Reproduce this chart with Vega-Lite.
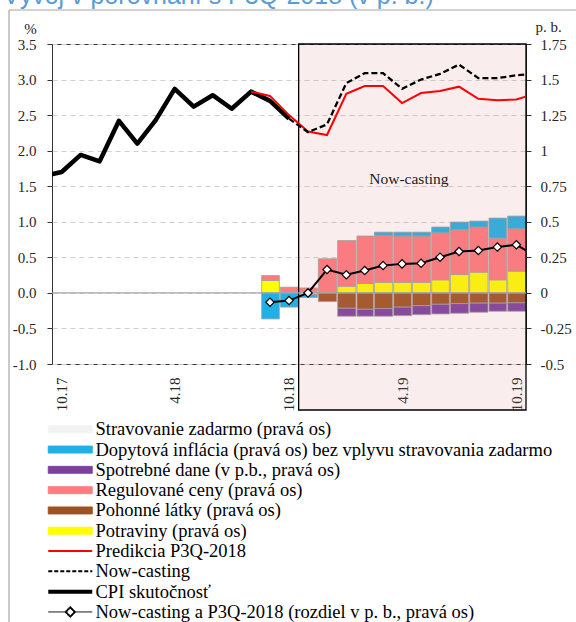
{
  "$schema": "https://vega.github.io/schema/vega-lite/v6.json",
  "width": 474,
  "height": 320,
  "autosize": {"type": "none"},
  "padding": {"left": 52, "top": 44, "right": 50, "bottom": 258},
  "background": "white",
  "config": {
    "view": {"stroke": "#333333", "strokeWidth": 1},
    "font": "Liberation Serif"
  },
  "title": {
    "text": "Vývoj v porovnaní s P3Q-2018 (v p. b.)",
    "anchor": "start",
    "frame": "group",
    "font": "Liberation Sans",
    "fontSize": 25,
    "fontWeight": "normal",
    "color": "#5b9bd5",
    "offset": 0,
    "baseline": "alphabetic",
    "dx": -49,
    "dy": 20
  },
  "datasets": {
    "cpi": [
      {"m": "2017-09", "v": 1.64}, {"m": "2017-10", "v": 1.70}, {"m": "2017-11", "v": 1.94},
      {"m": "2017-12", "v": 1.85}, {"m": "2018-01", "v": 2.42}, {"m": "2018-02", "v": 2.10},
      {"m": "2018-03", "v": 2.43}, {"m": "2018-04", "v": 2.87}, {"m": "2018-05", "v": 2.62},
      {"m": "2018-06", "v": 2.78}, {"m": "2018-07", "v": 2.59}, {"m": "2018-08", "v": 2.83},
      {"m": "2018-09", "v": 2.70}, {"m": "2018-10", "v": 2.45}
    ],
    "pred": [
      {"m": "2018-08", "v": 2.83}, {"m": "2018-09", "v": 2.77}, {"m": "2018-10", "v": 2.50},
      {"m": "2018-11", "v": 2.27}, {"m": "2018-12", "v": 2.22}, {"m": "2019-01", "v": 2.80},
      {"m": "2019-02", "v": 2.91}, {"m": "2019-03", "v": 2.91}, {"m": "2019-04", "v": 2.67},
      {"m": "2019-05", "v": 2.81}, {"m": "2019-06", "v": 2.84}, {"m": "2019-07", "v": 2.90},
      {"m": "2019-08", "v": 2.73}, {"m": "2019-09", "v": 2.71}, {"m": "2019-10", "v": 2.72},
      {"m": "2019-11", "v": 2.80}
    ],
    "now": [
      {"m": "2018-10", "v": 2.45}, {"m": "2018-11", "v": 2.26}, {"m": "2018-12", "v": 2.37},
      {"m": "2019-01", "v": 2.95}, {"m": "2019-02", "v": 3.09}, {"m": "2019-03", "v": 3.09},
      {"m": "2019-04", "v": 2.87}, {"m": "2019-05", "v": 3.00}, {"m": "2019-06", "v": 3.08},
      {"m": "2019-07", "v": 3.21}, {"m": "2019-08", "v": 3.02}, {"m": "2019-09", "v": 3.02},
      {"m": "2019-10", "v": 3.06}, {"m": "2019-11", "v": 3.08}
    ],
    "diff": [
      {"m": "2018-09", "v": -0.066}, {"m": "2018-10", "v": -0.054}, {"m": "2018-11", "v": 0.0},
      {"m": "2018-12", "v": 0.164}, {"m": "2019-01", "v": 0.127}, {"m": "2019-02", "v": 0.157},
      {"m": "2019-03", "v": 0.192}, {"m": "2019-04", "v": 0.204}, {"m": "2019-05", "v": 0.208},
      {"m": "2019-06", "v": 0.251}, {"m": "2019-07", "v": 0.291}, {"m": "2019-08", "v": 0.298},
      {"m": "2019-09", "v": 0.322}, {"m": "2019-10", "v": 0.338}, {"m": "2019-11", "v": 0.26}
    ],
    "bars": [
      {"m": "2018-09", "c": "Potraviny (pravá os)", "k": 1, "v": 0.087},
      {"m": "2018-09", "c": "Regulované ceny (pravá os)", "k": 3, "v": 0.035},
      {"m": "2018-09", "c": "Dopytová inflácia (pravá os) bez vplyvu stravovania zadarmo", "k": 5, "v": -0.183},
      {"m": "2018-10", "c": "Regulované ceny (pravá os)", "k": 3, "v": 0.04},
      {"m": "2018-10", "c": "Dopytová inflácia (pravá os) bez vplyvu stravovania zadarmo", "k": 5, "v": -0.10},
      {"m": "2018-11", "c": "Regulované ceny (pravá os)", "k": 3, "v": 0.035},
      {"m": "2018-11", "c": "Potraviny (pravá os)", "k": 1, "v": -0.012},
      {"m": "2018-11", "c": "Dopytová inflácia (pravá os) bez vplyvu stravovania zadarmo", "k": 5, "v": -0.02},
      {"m": "2018-12", "c": "Regulované ceny (pravá os)", "k": 3, "v": 0.24},
      {"m": "2018-12", "c": "Pohonné látky (pravá os)", "k": 2, "v": -0.061},
      {"m": "2019-01", "c": "Potraviny (pravá os)", "k": 1, "v": 0.047},
      {"m": "2019-01", "c": "Regulované ceny (pravá os)", "k": 3, "v": 0.321},
      {"m": "2019-01", "c": "Pohonné látky (pravá os)", "k": 2, "v": -0.108},
      {"m": "2019-01", "c": "Spotrebné dane (v p.b., pravá os)", "k": 4, "v": -0.056},
      {"m": "2019-02", "c": "Potraviny (pravá os)", "k": 1, "v": 0.066},
      {"m": "2019-02", "c": "Regulované ceny (pravá os)", "k": 3, "v": 0.334},
      {"m": "2019-02", "c": "Pohonné látky (pravá os)", "k": 2, "v": -0.115},
      {"m": "2019-02", "c": "Spotrebné dane (v p.b., pravá os)", "k": 4, "v": -0.049},
      {"m": "2019-03", "c": "Potraviny (pravá os)", "k": 1, "v": 0.075},
      {"m": "2019-03", "c": "Regulované ceny (pravá os)", "k": 3, "v": 0.329},
      {"m": "2019-03", "c": "Dopytová inflácia (pravá os) bez vplyvu stravovania zadarmo", "k": 5, "v": 0.023},
      {"m": "2019-03", "c": "Pohonné látky (pravá os)", "k": 2, "v": -0.11},
      {"m": "2019-03", "c": "Spotrebné dane (v p.b., pravá os)", "k": 4, "v": -0.054},
      {"m": "2019-04", "c": "Potraviny (pravá os)", "k": 1, "v": 0.075},
      {"m": "2019-04", "c": "Regulované ceny (pravá os)", "k": 3, "v": 0.325},
      {"m": "2019-04", "c": "Dopytová inflácia (pravá os) bez vplyvu stravovania zadarmo", "k": 5, "v": 0.027},
      {"m": "2019-04", "c": "Pohonné látky (pravá os)", "k": 2, "v": -0.10},
      {"m": "2019-04", "c": "Spotrebné dane (v p.b., pravá os)", "k": 4, "v": -0.06},
      {"m": "2019-05", "c": "Potraviny (pravá os)", "k": 1, "v": 0.075},
      {"m": "2019-05", "c": "Regulované ceny (pravá os)", "k": 3, "v": 0.325},
      {"m": "2019-05", "c": "Dopytová inflácia (pravá os) bez vplyvu stravovania zadarmo", "k": 5, "v": 0.027},
      {"m": "2019-05", "c": "Pohonné látky (pravá os)", "k": 2, "v": -0.09},
      {"m": "2019-05", "c": "Spotrebné dane (v p.b., pravá os)", "k": 4, "v": -0.063},
      {"m": "2019-06", "c": "Potraviny (pravá os)", "k": 1, "v": 0.092},
      {"m": "2019-06", "c": "Regulované ceny (pravá os)", "k": 3, "v": 0.331},
      {"m": "2019-06", "c": "Dopytová inflácia (pravá os) bez vplyvu stravovania zadarmo", "k": 5, "v": 0.04},
      {"m": "2019-06", "c": "Pohonné látky (pravá os)", "k": 2, "v": -0.08},
      {"m": "2019-06", "c": "Spotrebné dane (v p.b., pravá os)", "k": 4, "v": -0.068},
      {"m": "2019-07", "c": "Potraviny (pravá os)", "k": 1, "v": 0.129},
      {"m": "2019-07", "c": "Regulované ceny (pravá os)", "k": 3, "v": 0.315},
      {"m": "2019-07", "c": "Dopytová inflácia (pravá os) bez vplyvu stravovania zadarmo", "k": 5, "v": 0.054},
      {"m": "2019-07", "c": "Pohonné látky (pravá os)", "k": 2, "v": -0.075},
      {"m": "2019-07", "c": "Spotrebné dane (v p.b., pravá os)", "k": 4, "v": -0.068},
      {"m": "2019-08", "c": "Potraviny (pravá os)", "k": 1, "v": 0.146},
      {"m": "2019-08", "c": "Regulované ceny (pravá os)", "k": 3, "v": 0.317},
      {"m": "2019-08", "c": "Dopytová inflácia (pravá os) bez vplyvu stravovania zadarmo", "k": 5, "v": 0.042},
      {"m": "2019-08", "c": "Pohonné látky (pravá os)", "k": 2, "v": -0.072},
      {"m": "2019-08", "c": "Spotrebné dane (v p.b., pravá os)", "k": 4, "v": -0.064},
      {"m": "2019-09", "c": "Potraviny (pravá os)", "k": 1, "v": 0.092},
      {"m": "2019-09", "c": "Regulované ceny (pravá os)", "k": 3, "v": 0.293},
      {"m": "2019-09", "c": "Dopytová inflácia (pravá os) bez vplyvu stravovania zadarmo", "k": 5, "v": 0.141},
      {"m": "2019-09", "c": "Pohonné látky (pravá os)", "k": 2, "v": -0.072},
      {"m": "2019-09", "c": "Spotrebné dane (v p.b., pravá os)", "k": 4, "v": -0.057},
      {"m": "2019-10", "c": "Potraviny (pravá os)", "k": 1, "v": 0.153},
      {"m": "2019-10", "c": "Regulované ceny (pravá os)", "k": 3, "v": 0.298},
      {"m": "2019-10", "c": "Dopytová inflácia (pravá os) bez vplyvu stravovania zadarmo", "k": 5, "v": 0.089},
      {"m": "2019-10", "c": "Pohonné látky (pravá os)", "k": 2, "v": -0.07},
      {"m": "2019-10", "c": "Spotrebné dane (v p.b., pravá os)", "k": 4, "v": -0.059}
    ]
  },
  "layer": [
    {
      "data": {"name": "cpi"},
      "mark": {"type": "line", "strokeWidth": 4.5, "clip": true, "strokeJoin": "round"},
      "encoding": {
        "x": {"field": "m", "timeUnit": "utcyearmonth", "type": "temporal", "bandPosition": 0.5,
              "scale": {"type": "utc", "nice": false, "domain": [{"year": 2017, "month": 10, "date": 1, "utc": true}, {"year": 2019, "month": 11, "date": 1, "utc": true}]},
              "axis": {
                "values": [
                  {"year": 2017, "month": 10, "date": 16, "utc": true},
                  {"year": 2018, "month": 4, "date": 16, "utc": true},
                  {"year": 2018, "month": 10, "date": 16, "utc": true},
                  {"year": 2019, "month": 4, "date": 16, "utc": true},
                  {"year": 2019, "month": 10, "date": 16, "utc": true}
                ],
                "labelExpr": "utcFormat(datum.value, '%-m.%y')",
                "labelAngle": -90,
                "labelAlign": "right",
                "labelBaseline": "middle",
                "labelFont": "Liberation Serif",
                "labelFontSize": 15,
                "labelColor": "#262626",
                "labelPadding": 13,
                "labelOverlap": false,
                "ticks": false,
                "grid": false,
                "domain": false,
                "title": null
              }},
        "y": {"field": "v", "type": "quantitative", "scale": {"domain": [-1, 3.5], "nice": false, "zero": false},
              "axis": {
                "orient": "left",
                "values": [-1, -0.5, 0, 0.5, 1, 1.5, 2, 2.5, 3, 3.5],
                "labelExpr": "replace(format(datum.value, '.1f'), '\u2212', '-')",
                "grid": true,
                "gridDash": [5, 4],
                "gridColor": "#cfcfcf",
                "gridWidth": 1,
                "domain": false,
                "ticks": true,
                "tickSize": 5,
                "tickColor": "#333333",
                "labelFont": "Liberation Serif",
                "labelFontSize": 15,
                "labelColor": "#262626",
                "labelPadding": 11,
                "title": "%",
                "titleAngle": 0,
                "titleX": -22,
                "titleY": -16,
                "titleAlign": "center",
                "titleBaseline": "middle",
                "titleFont": "Liberation Serif",
                "titleFontSize": 15,
                "titleFontWeight": "normal",
                "titleColor": "#262626"
              }},
        "color": {"datum": "CPI skutočnosť", "type": "nominal"}
      }
    },
    {
      "data": {"name": "bars"},
      "mark": {"type": "bar", "stroke": "#a0a0a0", "strokeWidth": 0.8},
      "encoding": {
        "x": {"field": "m", "timeUnit": "utcyearmonth", "type": "temporal"},
        "y": {"field": "v", "type": "quantitative", "stack": "zero",
              "scale": {"domain": [-0.5, 1.75], "nice": false, "zero": false},
              "axis": {
                "orient": "right",
                "values": [-0.5, -0.25, 0, 0.25, 0.5, 0.75, 1, 1.25, 1.5, 1.75],
                "labelExpr": "replace(format(datum.value, '~g'), '\u2212', '-')",
                "grid": false,
                "domain": false,
                "ticks": true,
                "tickSize": 5,
                "tickColor": "#333333",
                "labelFont": "Liberation Serif",
                "labelFontSize": 15,
                "labelColor": "#262626",
                "labelPadding": 9,
                "title": "p. b.",
                "titleAngle": 0,
                "titleX": 22,
                "titleY": -18,
                "titleAlign": "center",
                "titleBaseline": "middle",
                "titleFont": "Liberation Serif",
                "titleFontSize": 15,
                "titleFontWeight": "normal",
                "titleColor": "#262626"
              }},
        "order": {"field": "k", "type": "quantitative"},
        "color": {
          "field": "c",
          "type": "nominal",
          "scale": {
            "domain": [
              "Stravovanie zadarmo (pravá os)",
              "Dopytová inflácia (pravá os) bez vplyvu stravovania zadarmo",
              "Spotrebné dane (v p.b., pravá os)",
              "Regulované ceny (pravá os)",
              "Pohonné látky (pravá os)",
              "Potraviny (pravá os)",
              "Predikcia P3Q-2018",
              "Now-casting",
              "CPI skutočnosť",
              "Now-casting a P3Q-2018 (rozdiel v p. b., pravá os)"
            ],
            "range": ["#f2f2f2", "#1fb1e6", "#7b3fa0", "#ff7b7f", "#9d5223", "#ffff00", "#ff0000", "#000000", "#000000", "#000000"]
          },
          "legend": {
            "orient": "none",
            "legendX": 9,
            "legendY": 376,
            "title": null,
            "direction": "vertical",
            "padding": 0,
            "labelFont": "Liberation Serif",
            "labelFontSize": 18.5,
            "labelColor": "#000000",
            "labelLimit": 700,
            "labelOffset": 16,
            "labelBaseline": "middle",
            "symbolSize": 100,
            "symbolType": "M-4.4,-0.7H4.4V0.7H-4.4Z",
            "symbolStrokeWidth": 1,
            "rowPadding": 1.3,
            "encoding": {
              "symbols": {
                "shape": {"value": {"expr": "datum.value === 'Now-casting a P3Q-2018 (rozdiel v p. b., pravá os)' ? 'M-4.4,0H-1.1M1.1,0H4.4M0,-1.1L1.1,0L0,1.1L-1.1,0ZM0,-0.75L-0.75,0L0,0.75L0.75,0Z' : (indexof(domain('color'), datum.value) < 6 ? 'M-4.4,-0.7H4.4V0.7H-4.4Z' : 'M-4.4,0H4.4')"}},
                "strokeWidth": {"value": {"expr": "datum.value === 'CPI skutočnosť' ? 4 : (indexof(domain('color'), datum.value) < 6 ? 1 : (datum.value === 'Now-casting a P3Q-2018 (rozdiel v p. b., pravá os)' ? 1 : 2))"}},
                "strokeDash": {"value": {"expr": "datum.value === 'Now-casting' ? [4, 2] : [1, 0]"}},
                "opacity": {"value": 1}
              }
            }
          }
        }
      }
    },
    {
      "data": {"values": [{}]},
      "mark": {"type": "rect", "fill": "#d78e87", "fillOpacity": 0.15, "stroke": "#000000", "strokeWidth": 1.3, "clip": false},
      "encoding": {
        "x": {"datum": {"year": 2018, "month": 11, "date": 1, "utc": true}, "type": "temporal"},
        "x2": {"datum": {"year": 2019, "month": 11, "date": 1, "utc": true}},
        "y": {"datum": 3.5, "type": "quantitative", "axis": null, "scale": {"domain": [-1, 3.5], "nice": false, "zero": false}},
        "y2": {"datum": -1.647}
      }
    },
    {
      "data": {"values": [{}]},
      "mark": {"type": "rule", "color": "#a6a6a6", "strokeWidth": 1.2, "clip": false},
      "encoding": {
        "x": {"datum": {"year": 2017, "month": 7, "date": 24, "utc": true}, "type": "temporal"},
        "x2": {"datum": {"year": 2020, "month": 1, "date": 25, "utc": true}},
        "y": {"datum": 3.978, "type": "quantitative", "axis": null, "scale": {"domain": [-1, 3.5], "nice": false, "zero": false}}
      }
    },
    {
      "data": {"values": [{}]},
      "mark": {"type": "rule", "color": "#a6a6a6", "strokeWidth": 1.2, "clip": false},
      "encoding": {
        "x": {"datum": {"year": 2017, "month": 7, "date": 24, "utc": true}, "type": "temporal"},
        "y": {"datum": 3.978, "type": "quantitative", "axis": null, "scale": {"domain": [-1, 3.5], "nice": false, "zero": false}},
        "y2": {"datum": -4.8}
      }
    },
    {
      "data": {"values": [{}]},
      "mark": {"type": "rule", "color": "#a6a6a6", "strokeWidth": 1.2},
      "encoding": {
        "y": {"datum": 0, "type": "quantitative", "axis": null, "scale": {"domain": [-1, 3.5], "nice": false, "zero": false}}
      }
    },
    {
      "data": {"name": "pred"},
      "mark": {"type": "line", "strokeWidth": 2, "clip": true},
      "encoding": {
        "x": {"field": "m", "timeUnit": "utcyearmonth", "type": "temporal", "bandPosition": 0.5},
        "y": {"field": "v", "type": "quantitative", "scale": {"domain": [-1, 3.5], "nice": false, "zero": false}, "axis": null},
        "color": {"datum": "Predikcia P3Q-2018", "type": "nominal"}
      }
    },
    {
      "data": {"name": "now"},
      "mark": {"type": "line", "strokeWidth": 2.3, "strokeDash": [6, 3], "clip": true},
      "encoding": {
        "x": {"field": "m", "timeUnit": "utcyearmonth", "type": "temporal", "bandPosition": 0.5},
        "y": {"field": "v", "type": "quantitative", "scale": {"domain": [-1, 3.5], "nice": false, "zero": false}, "axis": null},
        "color": {"datum": "Now-casting", "type": "nominal"}
      }
    },
    {
      "data": {"values": [{}]},
      "mark": {"type": "text", "text": "Now-casting", "font": "Liberation Serif", "fontSize": 15.5, "color": "#222222", "align": "center", "baseline": "middle"},
      "encoding": {
        "x": {"datum": {"year": 2019, "month": 4, "date": 27, "utc": true}, "type": "temporal"},
        "y": {"datum": 1.6, "type": "quantitative", "axis": null, "scale": {"domain": [-1, 3.5], "nice": false, "zero": false}}
      }
    },
    {
      "data": {"name": "diff"},
      "mark": {"type": "line", "strokeWidth": 2, "clip": true},
      "encoding": {
        "x": {"field": "m", "timeUnit": "utcyearmonth", "type": "temporal", "bandPosition": 0.5},
        "y": {"field": "v", "type": "quantitative", "scale": {"domain": [-0.5, 1.75], "nice": false, "zero": false}, "axis": null},
        "color": {"datum": "Now-casting a P3Q-2018 (rozdiel v p. b., pravá os)", "type": "nominal"}
      }
    },
    {
      "data": {"name": "diff"},
      "mark": {"type": "point", "shape": "diamond", "filled": true, "fill": "#ffffff", "stroke": "#000000", "strokeWidth": 1.2, "size": 70, "opacity": 1, "clip": true},
      "encoding": {
        "x": {"field": "m", "timeUnit": "utcyearmonth", "type": "temporal", "bandPosition": 0.5},
        "y": {"field": "v", "type": "quantitative", "scale": {"domain": [-0.5, 1.75], "nice": false, "zero": false}, "axis": null}
      }
    }
  ],
  "resolve": {"scale": {"y": "independent"}, "axis": {"y": "independent"}}
}
